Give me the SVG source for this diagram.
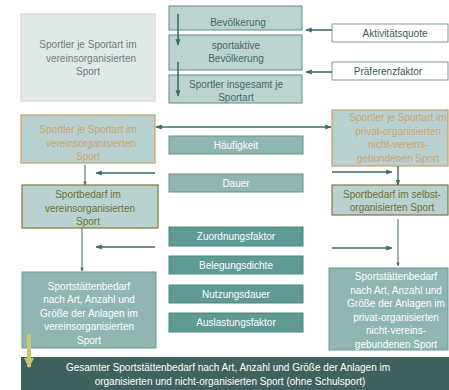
<svg xmlns="http://www.w3.org/2000/svg" width="449" height="390" viewBox="0 0 449 390">
  <style>
    text { font-family: "Liberation Sans", Arial, sans-serif; font-size: 10px; text-anchor: middle; }
    .grey { fill: #e1e9e8; stroke: #d8cfc2; stroke-width: 1; }
    .top { fill: #bcd3d1; stroke: #5f8c88; stroke-width: 1; }
    .orange { fill: #b9d2d1; stroke: #c99e62; stroke-width: 1.2; }
    .olive { fill: #b9d2d1; stroke: #7b7b3a; stroke-width: 1.2; }
    .mid { fill: #8fb6b3; stroke: #6a918e; stroke-width: 1; }
    .dark { fill: #5f9a95; stroke: #4f8682; stroke-width: 1; }
    .fac { fill: #ffffff; stroke: #7a9c99; stroke-width: 1; }
    .res { fill: #8fb6b3; stroke: #6f9a97; stroke-width: 1; }
    .t-grey { fill: #6b7d7b; }
    .t-teal { fill: #3f6a66; }
    .t-tan { fill: #c9a468; }
    .t-olive { fill: #6e6e2c; }
    .t-white { fill: #ffffff; }
    .t-fac { fill: #3a5a57; }
    .conn { stroke: #3f6a66; fill: none; }
  </style>
  <defs>
    <marker id="ah" viewBox="0 0 10 10" refX="9" refY="5" markerWidth="4" markerHeight="4" orient="auto-start-reverse">
      <path d="M0,1 L10,5 L0,9 z" fill="#3f6a66"/>
    </marker>
    <marker id="ahy" viewBox="0 0 10 10" refX="9" refY="5" markerWidth="2.6" markerHeight="2.6" orient="auto">
      <path d="M0,0 L10,5 L0,10 z" fill="#c9c76c"/>
    </marker>
  </defs>

  <g id="node-sportler-verein-top">
    <rect class="grey" x="21" y="14" width="134" height="87"/>
    <text class="t-grey" x="88" y="48">Sportler je Sportart im</text>
    <text class="t-grey" x="91" y="62">vereinsorganisierten</text>
    <text class="t-grey" x="88" y="75">Sport</text>
  </g>

  <g id="node-bevoelkerung">
    <rect class="top" x="169" y="6" width="133" height="24"/>
    <text class="t-teal" x="238" y="26">Bevölkerung</text>
  </g>
  <g id="node-sportaktive">
    <rect class="top" x="169" y="35" width="133" height="35"/>
    <text class="t-teal" x="236" y="49">sportaktive</text>
    <text class="t-teal" x="236" y="62">Bevölkerung</text>
  </g>
  <g id="node-sportler-insgesamt">
    <rect class="top" x="169" y="75" width="133" height="28"/>
    <text class="t-teal" x="236" y="88">Sportler insgesamt je</text>
    <text class="t-teal" x="236" y="101">Sportart</text>
  </g>

  <g id="node-aktivitaetsquote">
    <rect class="fac" x="332" y="24" width="116" height="18"/>
    <text class="t-fac" x="395" y="37">Aktivitätsquote</text>
  </g>
  <g id="node-praeferenzfaktor">
    <rect class="fac" x="332" y="62" width="116" height="18"/>
    <text class="t-fac" x="388" y="75">Präferenzfaktor</text>
  </g>

  <g id="node-sportler-verein">
    <rect class="orange" x="21" y="115" width="134" height="48"/>
    <text class="t-tan" x="88" y="133">Sportler je Sportart im</text>
    <text class="t-tan" x="91" y="147">vereinsorganisierten</text>
    <text class="t-tan" x="88" y="160">Sport</text>
  </g>
  <g id="node-sportler-privat">
    <rect class="orange" x="332" y="110" width="116" height="56"/>
    <text class="t-tan" x="398" y="121">Sportler je Sportart im</text>
    <text class="t-tan" x="398" y="135">privat-organisierten</text>
    <text class="t-tan" x="398" y="148">nicht-vereins-</text>
    <text class="t-tan" x="398" y="162">gebundenen Sport</text>
  </g>

  <g id="node-haeufigkeit">
    <rect class="mid" x="169" y="136" width="134" height="18"/>
    <text class="t-white" x="236" y="149">Häufigkeit</text>
  </g>
  <g id="node-dauer">
    <rect class="mid" x="169" y="174" width="134" height="18"/>
    <text class="t-white" x="236" y="187">Dauer</text>
  </g>

  <g id="node-sportbedarf-verein">
    <rect class="olive" x="22" y="185" width="136" height="43"/>
    <text class="t-olive" x="88" y="198">Sportbedarf im</text>
    <text class="t-olive" x="90" y="212">vereinsorganisierten</text>
    <text class="t-olive" x="88" y="225">Sport</text>
  </g>
  <g id="node-sportbedarf-selbst">
    <rect class="olive" x="332" y="185" width="116" height="30"/>
    <text class="t-olive" x="392" y="198">Sportbedarf im selbst-</text>
    <text class="t-olive" x="392" y="211">organisierten Sport</text>
  </g>

  <g id="node-zuordnungsfaktor">
    <rect class="dark" x="169" y="227" width="134" height="19"/>
    <text class="t-white" x="236" y="240">Zuordnungsfaktor</text>
  </g>
  <g id="node-belegungsdichte">
    <rect class="dark" x="169" y="256" width="134" height="18"/>
    <text class="t-white" x="236" y="269">Belegungsdichte</text>
  </g>
  <g id="node-nutzungsdauer">
    <rect class="dark" x="169" y="285" width="134" height="18"/>
    <text class="t-white" x="236" y="298">Nutzungsdauer</text>
  </g>
  <g id="node-auslastungsfaktor">
    <rect class="dark" x="169" y="313" width="134" height="19"/>
    <text class="t-white" x="236" y="326">Auslastungsfaktor</text>
  </g>

  <g id="node-staettenbedarf-verein">
    <rect class="res" x="22" y="272" width="134" height="76"/>
    <text class="t-white" x="89" y="290">Sportstättenbedarf</text>
    <text class="t-white" x="89" y="303">nach Art, Anzahl und</text>
    <text class="t-white" x="89" y="317">Größe der Anlagen im</text>
    <text class="t-white" x="89" y="330">vereinsorganisierten</text>
    <text class="t-white" x="89" y="344">Sport</text>
  </g>
  <g id="node-staettenbedarf-privat">
    <rect class="res" x="329" y="268" width="119" height="82"/>
    <text class="t-white" x="396" y="280">Sportstättenbedarf</text>
    <text class="t-white" x="396" y="294">nach Art, Anzahl und</text>
    <text class="t-white" x="396" y="307">Größe der Anlagen im</text>
    <text class="t-white" x="396" y="321">privat-organisierten</text>
    <text class="t-white" x="396" y="334">nicht-vereins-</text>
    <text class="t-white" x="396" y="348">gebundenen Sport</text>
  </g>

  <g id="node-gesamt">
    <rect x="21" y="357" width="428" height="33" fill="#3f625e"/>
    <text class="t-white" x="228" y="371">Gesamter Sportstättenbedarf nach Art, Anzahl und Größe der Anlagen im</text>
    <text class="t-white" x="230" y="385">organisierten und nicht-organisierten Sport (ohne Schulsport)</text>
  </g>

  <g id="connectors">
    <!-- population chain -->
    <line class="conn" x1="178" y1="14" x2="178" y2="45" stroke-width="1.6" marker-end="url(#ah)"/>
    <line class="conn" x1="178" y1="62" x2="178" y2="96" stroke-width="1.6" marker-end="url(#ah)"/>
    <!-- factor inputs -->
    <line class="conn" x1="332" y1="30" x2="306" y2="30" stroke-width="1.6" marker-end="url(#ah)"/>
    <line class="conn" x1="332" y1="72" x2="306" y2="72" stroke-width="1.6" marker-end="url(#ah)"/>
    <!-- split between club and private sport -->
    <line class="conn" x1="156" y1="127" x2="331" y2="127" stroke-width="1.6" marker-start="url(#ah)" marker-end="url(#ah)"/>
    <!-- Häufigkeit / Dauer -->
    <line class="conn" x1="155" y1="173" x2="96" y2="173" stroke-width="1.6" marker-end="url(#ah)"/>
    <line class="conn" x1="332" y1="172" x2="392" y2="172" stroke-width="1.6" marker-end="url(#ah)"/>
    <line class="conn" x1="85" y1="165" x2="85" y2="185" stroke-width="1" marker-end="url(#ah)"/>
    <line class="conn" x1="398" y1="166" x2="398" y2="185" stroke-width="1.4" marker-end="url(#ah)"/>
    <!-- facility factors -->
    <line class="conn" x1="82" y1="228" x2="82" y2="271" stroke-width="1" marker-end="url(#ah)"/>
    <line class="conn" x1="155" y1="247" x2="96" y2="247" stroke-width="1.6" marker-end="url(#ah)"/>
    <line class="conn" x1="398" y1="219" x2="398" y2="266" stroke-width="1" marker-end="url(#ah)"/>
    <line class="conn" x1="332" y1="248" x2="392" y2="248" stroke-width="1.6" marker-end="url(#ah)"/>
    <!-- total -->
    <line x1="29" y1="334" x2="29" y2="367" stroke="#c9c76c" stroke-width="4" marker-end="url(#ahy)"/>
  </g>
</svg>
